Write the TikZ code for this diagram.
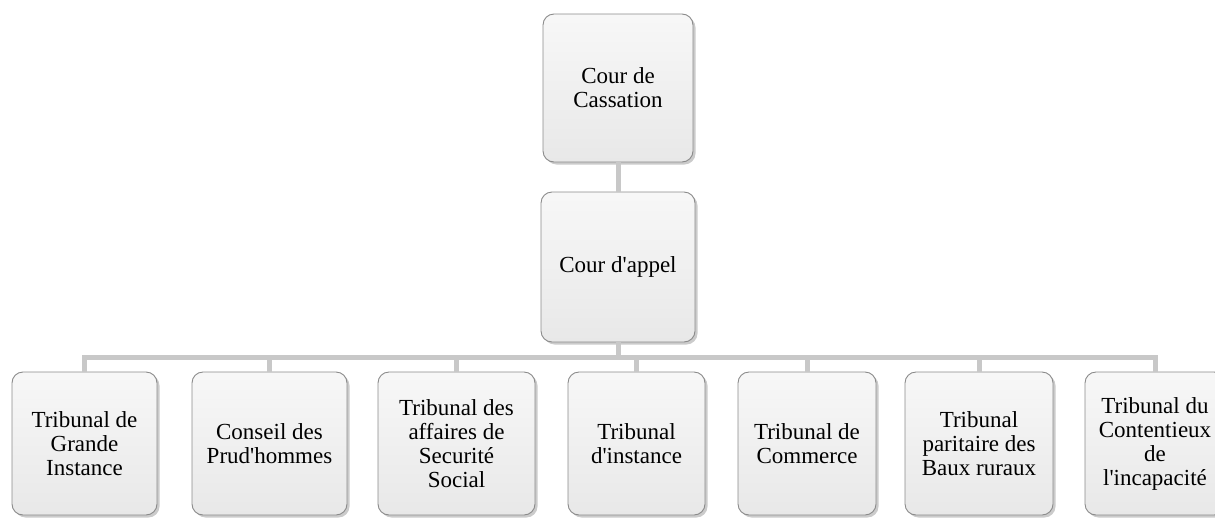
\documentclass[tikz,border=0pt]{standalone}
\usepackage{fontspec}
\setmainfont{Liberation Serif}
\usetikzlibrary{shadows}
\definecolor{connc}{HTML}{C8C8C8}
\definecolor{boxline}{HTML}{8A8A8A}
\newcommand{\sq}{\textquotesingle}
\begin{document}
\begin{tikzpicture}[x=1pt,y=-1pt,
  court/.style={draw=boxline, line width=0.9pt, rounded corners=11pt,
    top color=white!97!black, bottom color=white!91!black,
    drop shadow={shadow xshift=2.5pt, shadow yshift=-2.5pt, fill=black!45, opacity=0.45},
    align=center, inner sep=2pt, font=\fontsize{23}{24}\selectfont, text=black},
  conn/.style={draw=connc, line width=5pt}]
\useasboundingbox (0,0) rectangle (1215,517);
\node[court, minimum width=150pt, minimum height=148pt] (cass) at (618,88) {Cour de\\Cassation};
\node[court, minimum width=154pt, minimum height=150pt] (appel) at (618,267) {Cour d\sq appel};
\begin{scope}[every node/.append style={minimum height=143pt}]
\node[court, minimum width=145pt] (b1) at (84.5,443.5) {Tribunal de\\Grande\\Instance};
\node[court, minimum width=155pt] (b2) at (269.5,443.5) {Conseil des\\Prud\sq hommes};
\node[court, minimum width=157pt] (b3) at (456.5,443.5) {Tribunal des\\affaires de\\Securité\\Social};
\node[court, minimum width=137pt] (b4) at (636.5,443.5) {Tribunal\\d\sq instance};
\node[court, minimum width=138pt] (b5) at (807,443.5) {Tribunal de\\Commerce};
\node[court, minimum width=148pt] (b6) at (979,443.5) {Tribunal\\paritaire des\\Baux ruraux};
\node[court, minimum width=140pt] (b7) at (1155,443.5) {Tribunal du\\Contentieux\\de\\l\sq incapacité};
\end{scope}
\coordinate (barY) at (0,357.5);
\draw[conn] (cass.south) -- (appel.north);
\draw[conn] (appel.south) -- (appel.south |- barY);
\draw[conn] (b1.north) -- (b1.north |- barY) -- (b7.north |- barY) -- (b7.north);
\foreach \b in {b2,b3,b4,b5,b6}
  \draw[conn] (\b.north) -- (\b.north |- barY);
\end{tikzpicture}
\end{document}
